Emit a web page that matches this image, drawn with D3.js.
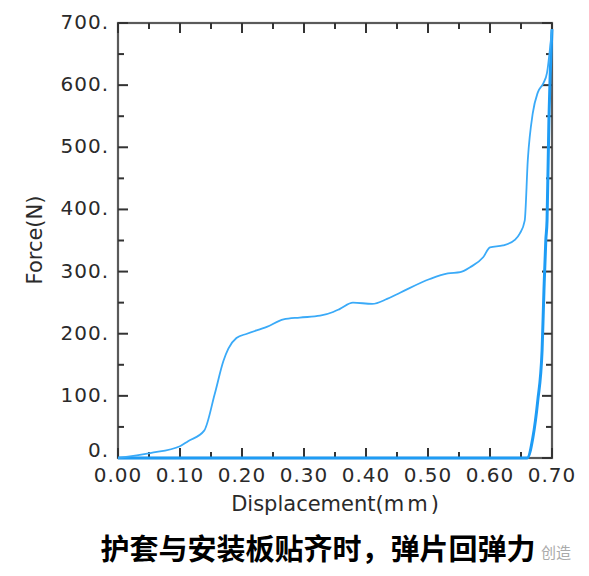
<!DOCTYPE html>
<html lang="zh">
<head>
<meta charset="utf-8">
<title>弹片回弹力</title>
<script src="https://d3js.org/d3.v7.min.js"></script>
<style>
  body { margin: 0; background: #fff; }
</style>
</head>
<body>
<script>
// loading curve (displacement mm, force N)
var loadX = [0, 0.052, 0.10, 0.113, 0.139, 0.156, 0.170, 0.178, 0.191, 0.208, 0.240, 0.267, 0.293, 0.326, 0.347, 0.358, 0.379, 0.410, 0.434, 0.455, 0.503, 0.532, 0.552, 0.568, 0.589, 0.600, 0.621, 0.640, 0.648, 0.656, 0.661, 0.669, 0.677, 0.686, 0.692, 0.697, 0.700];
var loadY = [0, 8, 19, 27, 44, 103, 156, 176, 193, 200, 211, 223, 226, 229, 235, 240, 250, 248, 256, 266, 288, 297, 299, 307, 323, 339, 342, 351, 361, 382, 480, 555, 588, 603, 620, 661, 690];
// unloading curve (back down to zero force, then flat along the axis)
var unloadX = [0.000, 0.660, 0.669, 0.677, 0.684, 0.687, 0.690, 0.692, 0.695, 0.700];
var unloadY = [0, 0, 32, 92, 173, 269, 350, 382, 543, 690];

var xTicks = [0, 0.1, 0.2, 0.3, 0.4, 0.5, 0.6, 0.7];
var yTicks = [0, 100, 200, 300, 400, 500, 600, 700];
var title = "护套与安装板贴齐时，弹片回弹力";

var width = 589, height = 576;
var x = d3.scaleLinear().domain([0, 0.7]).range([118, 552]);
var y = d3.scaleLinear().domain([0, 700]).range([458, 23]);

var svg = d3.select("body").append("svg")
    .attr("width", width)
    .attr("height", height);

var font = "'DejaVu Sans', Verdana, sans-serif";
var minorX = d3.range(0.05, 0.7, 0.1);
var minorY = d3.range(50, 700, 100);

// frame
svg.append("rect")
    .attr("x", x(0)).attr("y", y(700))
    .attr("width", x(0.7) - x(0)).attr("height", y(0) - y(700))
    .attr("fill", "none").attr("stroke", "#5a5a5a").attr("stroke-width", 2.2);

// inward ticks on all four sides
function ticks(vals, len) {
    var g = svg.append("g").attr("stroke", "#333").attr("stroke-width", 2);
    vals.forEach(function (v) {
        g.append("line").attr("x1", x(v)).attr("x2", x(v)).attr("y1", y(0)).attr("y2", y(0) - len);
        g.append("line").attr("x1", x(v)).attr("x2", x(v)).attr("y1", y(700)).attr("y2", y(700) + len);
    });
}
function yticks(vals, len) {
    var g = svg.append("g").attr("stroke", "#333").attr("stroke-width", 2);
    vals.forEach(function (v) {
        g.append("line").attr("y1", y(v)).attr("y2", y(v)).attr("x1", x(0)).attr("x2", x(0) + len);
        g.append("line").attr("y1", y(v)).attr("y2", y(v)).attr("x1", x(0.7)).attr("x2", x(0.7) - len);
    });
}
ticks(xTicks, 10);
ticks(minorX, 6);
yticks(yTicks, 10);
yticks(minorY, 6);

// tick labels
svg.append("g").selectAll("text").data(xTicks).enter().append("text")
    .attr("x", function (d) { return x(d); })
    .attr("y", 482)
    .attr("text-anchor", "middle")
    .attr("font-family", font).attr("font-size", 20)
    .attr("letter-spacing", 1)
    .attr("fill", "#2a2a2a")
    .text(function (d) { return d.toFixed(2); });

svg.append("g").selectAll("text").data(yTicks).enter().append("text")
    .attr("x", 109)
    .attr("y", function (d) { return d === 0 ? y(d) - 1 : y(d) + 6; })
    .attr("text-anchor", "end")
    .attr("font-family", font).attr("font-size", 20)
    .attr("letter-spacing", 1)
    .attr("fill", "#2a2a2a")
    .text(function (d) { return d + "."; });

// axis titles
var xt = svg.append("text")
    .attr("x", 335).attr("y", 511)
    .attr("text-anchor", "middle")
    .attr("font-family", font).attr("font-size", 21)
    .attr("fill", "#2a2a2a");
xt.append("tspan").text("Displacement(");
xt.append("tspan").attr("letter-spacing", 3).text("mm");
xt.append("tspan").text(")");

svg.append("text")
    .attr("transform", "translate(42,240) rotate(-90)")
    .attr("text-anchor", "middle")
    .attr("font-family", font).attr("font-size", 21)
    .attr("fill", "#2a2a2a")
    .text("Force(N)");

// curves
var line = d3.line()
    .x(function (d) { return x(d[0]); })
    .y(function (d) { return y(d[1]); })
    .curve(d3.curveMonotoneX);

svg.append("path")
    .datum(d3.zip(unloadX, unloadY))
    .attr("d", line)
    .attr("fill", "none")
    .attr("stroke", "#1e9cf5")
    .attr("stroke-width", 3);

svg.append("path")
    .datum(d3.zip(loadX, loadY))
    .attr("d", line)
    .attr("fill", "none")
    .attr("stroke", "#3aaaf8")
    .attr("stroke-width", 1.8);

// watermark
svg.append("text")
    .attr("x", 571).attr("y", 558)
    .attr("text-anchor", "end")
    .attr("font-family", "'Noto Sans CJK SC', sans-serif").attr("font-size", 15)
    .attr("fill", "#aaa")
    .text("创造");

// title
svg.append("text")
    .attr("x", 318).attr("y", 560)
    .attr("text-anchor", "middle")
    .attr("font-family", "'Noto Sans CJK SC', sans-serif").attr("font-size", 29)
    .attr("font-weight", "bold")
    .attr("fill", "#000")
    .text(title);
</script>
</body>
</html>
